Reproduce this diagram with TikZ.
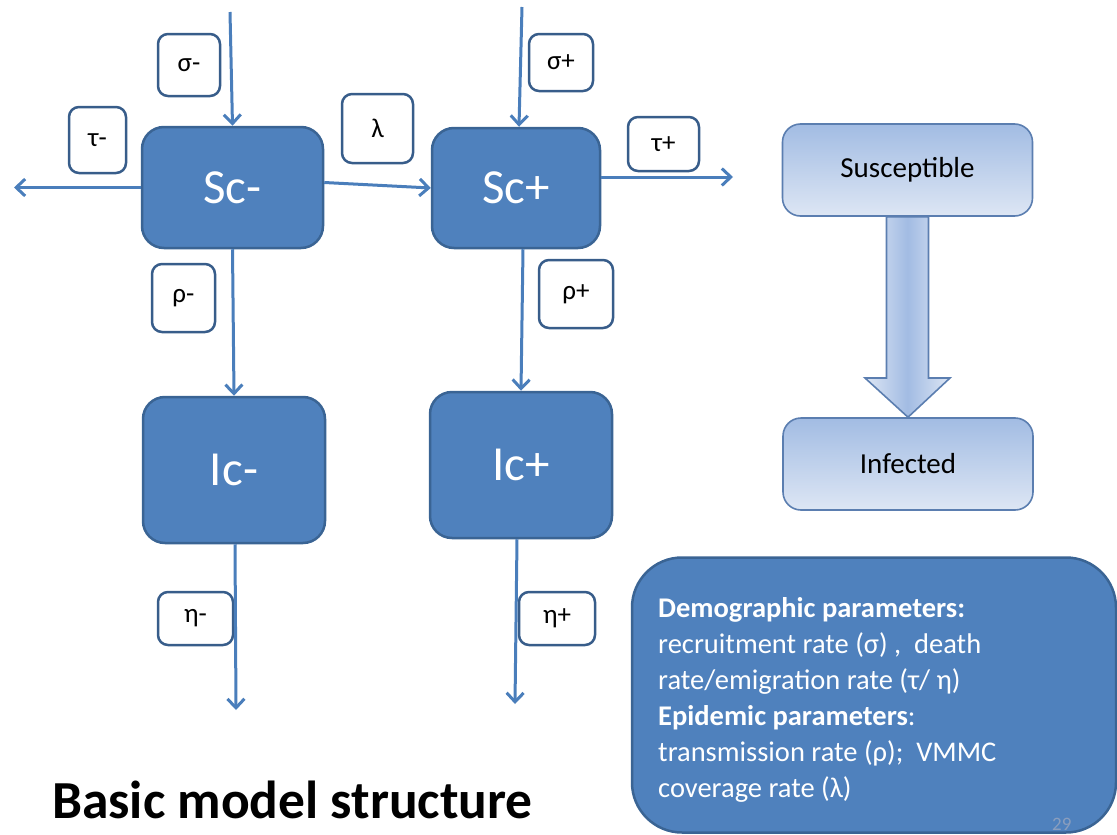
\documentclass[tikz,border=0pt]{standalone}
\usepackage{fontspec}
\setmainfont{Carlito}
\usetikzlibrary{arrows.meta,calc}
\definecolor{boxblue}{HTML}{4F81BD}
\definecolor{boxedge}{HTML}{3A6494}
\definecolor{arrowblue}{HTML}{4A7EBB}
\definecolor{labeledge}{HTML}{385D8A}
\definecolor{gradtop}{HTML}{A2BCE3}
\definecolor{gradbot}{HTML}{DDE6F4}
\definecolor{gradedge}{HTML}{5B7EB0}
\definecolor{pagenum}{HTML}{8A9EBE}
\begin{document}
\begin{tikzpicture}[x=1pt,y=-1pt,
  compbox/.style={draw=boxedge, line width=2.5pt, fill=boxblue, rounded corners=22pt,
    text=white, font=\fontsize{49}{56}\selectfont, inner sep=0pt},
  ratebox/.style={draw=labeledge, line width=2.5pt, fill=white, rounded corners=10pt,
    font=\fontsize{27}{30}\selectfont, inner sep=0pt},
  gradbox/.style={draw=gradedge, line width=1.6pt, top color=gradtop, bottom color=gradbot,
    rounded corners=18pt, font=\fontsize{29}{32}\selectfont, inner sep=0pt,
    minimum width=250pt, minimum height=92pt},
  flow/.style={draw=arrowblue, line width=3pt, -{Straight Barb[length=9pt,width=17pt,line width=3pt]}}
]
\useasboundingbox (0,0) rectangle (1117,835);

% compartments
\node[compbox, minimum width=181pt, minimum height=121pt] (Scm) at (232.5,187.5) {Sc-};
\node[compbox, minimum width=168pt, minimum height=120pt] (Scp) at (516,188) {Sc+};
\node[compbox, minimum width=182pt, minimum height=146pt] (Icm) at (234,470) {Ic-};
\node[compbox, minimum width=182pt, minimum height=146pt] (Icp) at (521,465) {Ic+};

% rate labels
\node[ratebox, minimum width=62pt, minimum height=62pt] (sigm) at (189,65) {σ-};
\node[ratebox, minimum width=57pt, minimum height=66pt] (taum) at (97.5,140) {τ-};
\node[ratebox, minimum width=71pt, minimum height=69pt] (lam) at (377.5,128.5) {λ};
\node[ratebox, minimum width=64pt, minimum height=57pt] (sigp) at (561,62.5) {σ+};
\node[ratebox, minimum width=71pt, minimum height=54pt] (taup) at (663.5,144) {τ+};
\node[ratebox, minimum width=63pt, minimum height=68pt] (rhom) at (183.5,298) {ρ-};
\node[ratebox, minimum width=74pt, minimum height=68pt] (rhop) at (576,294) {ρ+};
\node[ratebox, minimum width=75pt, minimum height=53pt] (etam) at (195.5,618.5) {η-};
\node[ratebox, minimum width=76pt, minimum height=53pt] (etap) at (557,618.5) {η+};

% free ends
\coordinate (inm) at (230,12);
\coordinate (inp) at (522,7);
\coordinate (outtaum) at (14,187.5);
\coordinate (outtaup) at (733,177);
\coordinate (outetam) at (236,710);
\coordinate (outetap) at (515,704);

% flows
\draw[flow] (inm) -- (Scm.north);
\draw[flow] (inp) -- ([xshift=3pt]Scp.north);
\draw[flow] (Scm.west) -- (outtaum);
\draw[flow] ([yshift=5pt]Scm.east) -- (Scp.west);
\draw[flow] ([yshift=11pt]Scp.east) -- (outtaup);
\draw[flow] (Scm.south) -- (Icm.north);
\draw[flow] ([xshift=7pt]Scp.south) -- (Icp.north);
\draw[flow] ([xshift=1pt]Icm.south) -- (outetam);
\draw[flow] ([xshift=-4pt]Icp.south) -- (outetap);

% legend
\node[gradbox] (sus) at (907.5,170) {Susceptible};
\node[gradbox] (inf) at (908,464) {Infected};
\draw[draw=gradedge, line width=1.6pt, left color=gradbot, right color=gradbot, middle color=gradtop]
  ($(sus.south)+(-21,0)$) -- ($(sus.south)+(21,0)$) -- (928.5,378) -- (950,378)
  -- (inf.north) -- (865,378) -- (886.5,378) -- cycle;

% info box
\node[draw=boxedge, line width=2.5pt, fill=boxblue, rounded corners=50pt,
  minimum width=484pt, minimum height=275pt, inner sep=0pt] (info) at (874,695) {};
\node[anchor=north west, align=left, text=white, inner sep=0pt,
  font=\fontsize{28.5}{36}\selectfont] (infotext) at (658,597)
  {\textbf{Demographic parameters:}\\
   recruitment rate (σ) ,\ \ death\\
   rate/emigration rate (τ/ η)\\
   \textbf{Epidemic parameters}:\\
   transmission rate (ρ);\ \ VMMC\\
   coverage rate (λ)};
\node[anchor=base west, inner sep=0pt, text=pagenum, font=\fontsize{19}{22}\selectfont] (pnum) at (1052,830) {29};

% title
\node[anchor=base west, inner sep=0pt, font=\fontsize{53.5}{60}\selectfont\bfseries] (title) at (52,818) {Basic model structure};
\end{tikzpicture}
\end{document}
